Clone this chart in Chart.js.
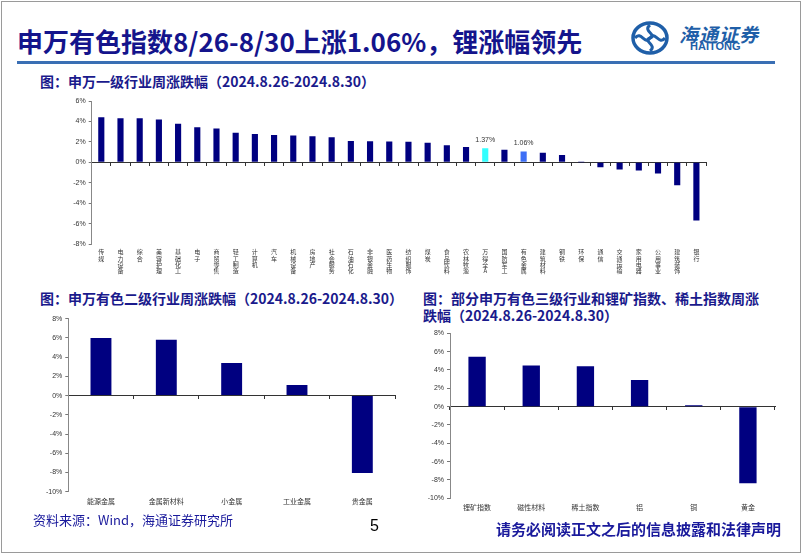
<!DOCTYPE html>
<html><head><meta charset="utf-8">
<script src="https://cdn.jsdelivr.net/npm/chart.js@4.4.1/dist/chart.umd.min.js"></script>
<style>
html,body{margin:0;padding:0;background:#fff;}
body{width:802px;height:554px;position:relative;overflow:hidden;font-family:"Noto Sans CJK SC","Noto Sans",sans-serif;}
.frame{position:absolute;left:1px;top:1px;width:798px;height:550px;border:1px solid #9a9a9a;}
.abs{position:absolute;white-space:nowrap;}
.title{left:17px;top:23px;font-size:26px;font-weight:bold;color:#14148c;letter-spacing:0px;line-height:36px;}
.rule{left:17px;top:61px;width:758px;height:3px;background:#3a6fb4;}
.sub{font-size:14px;font-weight:bold;color:#1a1a8c;line-height:18px;}
canvas{position:absolute;}
.src{left:33px;top:510px;font-size:13px;color:#1a1a9c;}
.page{left:370px;top:517px;font-size:16px;color:#000;font-family:"Liberation Sans",Arial,sans-serif;}
.foot{left:496px;top:518px;font-size:15px;font-weight:bold;color:#1a1a9c;}
.logoTxt{left:679px;top:20px;font-size:19px;color:#1f5fa8;font-style:italic;font-weight:bold;letter-spacing:1px;}
.logoEn{left:690px;top:40px;font-size:11px;font-weight:bold;color:#1f5fa8;font-family:"Liberation Sans",Arial,sans-serif;}
</style></head>
<body>
<div class="frame"></div>
<div class="abs title">申万有色指数8/26-8/30上涨1.06%，锂涨幅领先</div>
<svg class="abs" style="left:630px;top:21px" width="40" height="34" viewBox="0 0 40 34">
  <ellipse cx="20" cy="17" rx="17" ry="15" fill="none" stroke="#1f5fa8" stroke-width="3.5"/>
  <path d="M20 4 C12 10 28 14 20 17 C12 20 28 24 20 30" fill="none" stroke="#1f5fa8" stroke-width="3"/>
  <path d="M5 17 C11 9 15 25 20 17 C25 9 29 25 35 17" fill="none" stroke="#1f5fa8" stroke-width="3"/>
</svg>
<div class="abs logoTxt">海通证券</div>
<div class="abs logoEn">HAITONG</div>
<div class="abs rule"></div>
<div class="abs sub" style="left:40px;top:72px;">图：申万一级行业周涨跌幅（2024.8.26-2024.8.30）</div>
<div class="abs sub" style="left:40px;top:289px;">图：申万有色二级行业周涨跌幅（2024.8.26-2024.8.30）</div>
<div class="abs sub" style="left:423px;top:289px;">图：部分申万有色三级行业和锂矿指数、稀土指数周涨</div>
<div class="abs sub" style="left:423px;top:306px;">跌幅（2024.8.26-2024.8.30）</div>
<canvas id="c1" width="680" height="190" style="left:40px;top:92px;width:680px;height:190px"></canvas>
<canvas id="c2" width="385" height="205" style="left:20px;top:308px;width:385px;height:205px"></canvas>
<canvas id="c3" width="385" height="200" style="left:405px;top:322px;width:385px;height:200px"></canvas>
<div class="abs src">资料来源：Wind，海通证券研究所</div>
<div class="abs page">5</div>
<div class="abs foot">请务必阅读正文之后的信息披露和法律声明</div>
<script>
// ---- data ----
const industries = ['传媒','电力设备','综合','美容护理','基础化工','电子','商贸零售','轻工制造','计算机','汽车','机械设备','房地产','社会服务','石油石化','非银金融','医药生物','纺织服饰','煤炭','食品饮料','农林牧渔','万得全A','国防军工','有色金属','建筑材料','钢铁','环保','通信','交通运输','家用电器','公用事业','建筑装饰','银行'];
const industryChange = [4.41,4.32,4.31,4.19,3.77,3.44,3.31,2.89,2.76,2.66,2.63,2.56,2.44,2.08,2.05,2.04,2.01,1.92,1.66,1.49,1.37,1.23,1.06,0.94,0.71,0.01,-0.49,-0.71,-0.81,-1.10,-2.24,-5.71];
const highlighted = {'万得全A':'#33ffff','有色金属':'#3d6ef5'};
const labelled = ['万得全A','有色金属'];
const level2 = ['能源金属','金属新材料','小金属','工业金属','贵金属'];
const level2Change = [6.0,5.8,3.4,1.1,-8.05];
const level3 = ['锂矿指数','磁性材料','稀土指数','铝','铜','黄金'];
const level3Change = [5.45,4.5,4.4,2.9,0.15,-8.36];
const yTicks1 = {min:-8,max:6,step:2};
const yTicks2 = {min:-10,max:8,step:2};

const NAVY = '#000080';
const TICKFONT = {family:'"Liberation Sans",Arial,sans-serif',size:7};

const valueLabels = {
  id:'valueLabels',
  afterDatasetsDraw(chart){
    const ctx = chart.ctx, meta = chart.getDatasetMeta(0);
    const cats = chart.data.labels;
    ctx.save();
    ctx.font = '7px "Liberation Sans",Arial,sans-serif';
    ctx.fillStyle = '#333';
    ctx.textAlign = 'center';
    ctx.textBaseline = 'bottom';
    cats.forEach((c,i)=>{
      if(labelled.includes(c)){
        const el = meta.data[i];
        const v = chart.data.datasets[0].data[i];
        ctx.fillText(v.toFixed(2)+'%', el.x, el.y-5);
      }
    });
    ctx.restore();
  }
};

function makeChart(id, labels, values, colors, yr, yWidth, xHeight, pad, xLabels, xFont, xPad, plugins){
  return new Chart(document.getElementById(id), {
    type:'bar',
    data:{labels:labels, datasets:[{data:values, backgroundColor:colors, categoryPercentage:1, barPercentage:0.32}]},
    options:{
      responsive:false, animation:false, maintainAspectRatio:false,
      layout:{padding:pad},
      plugins:{legend:{display:false}, tooltip:{enabled:false}},
      scales:{
        x:{type:'category', position:'bottom', offset:true,
           grid:{display:false, drawTicks:false, tickLength:0}, border:{display:false},
           ticks:{autoSkip:false, maxRotation:0, minRotation:0, padding:xPad, color:'#333', font:xFont,
                  callback:(v,i)=>xLabels[i]},
           afterFit:(s)=>{s.height = xHeight;}},
        x2:{type:'category', labels:labels, position:{y:0}, offset:true,
            grid:{display:true, offset:true, drawOnChartArea:false, drawTicks:true, tickLength:3, color:'#333', lineWidth:1},
            border:{display:true, color:'#333', width:1},
            ticks:{display:false}},
        y:{min:yr.min, max:yr.max, position:'left',
           grid:{drawOnChartArea:false, drawTicks:true, tickLength:3, color:'#777'},
           border:{display:true, color:'#888', width:1},
           ticks:{stepSize:yr.step, padding:3, color:'#333', font:TICKFONT, callback:(v)=>v+'%'},
           afterFit:(s)=>{s.width = yWidth;}}
      }
    },
    plugins:plugins||[]
  });
}

const colors1 = industries.map(c=>highlighted[c]||NAVY);
const vertLabels = industries.map(c=>c.split(''));
makeChart('c1', industries, industryChange, colors1, yTicks1, 51.7, 38,
  {top:9,right:14,left:0,bottom:0}, vertLabels,
  {family:'"Noto Sans CJK SC",sans-serif',size:6,lineHeight:1.05}, 5, [valueLabels]);

makeChart('c2', level2, level2Change, level2.map(()=>NAVY), yTicks2, 48.3, 21.3,
  {top:10.7,right:10,left:0,bottom:0}, level2,
  {family:'"Noto Sans CJK SC",sans-serif',size:7}, 5);

makeChart('c3', level3, level3Change, level3.map(()=>NAVY), yTicks2, 45, 23.7,
  {top:11.3,right:15,left:0,bottom:0}, level3,
  {family:'"Noto Sans CJK SC",sans-serif',size:7}, 5);
</script>
</body></html>
